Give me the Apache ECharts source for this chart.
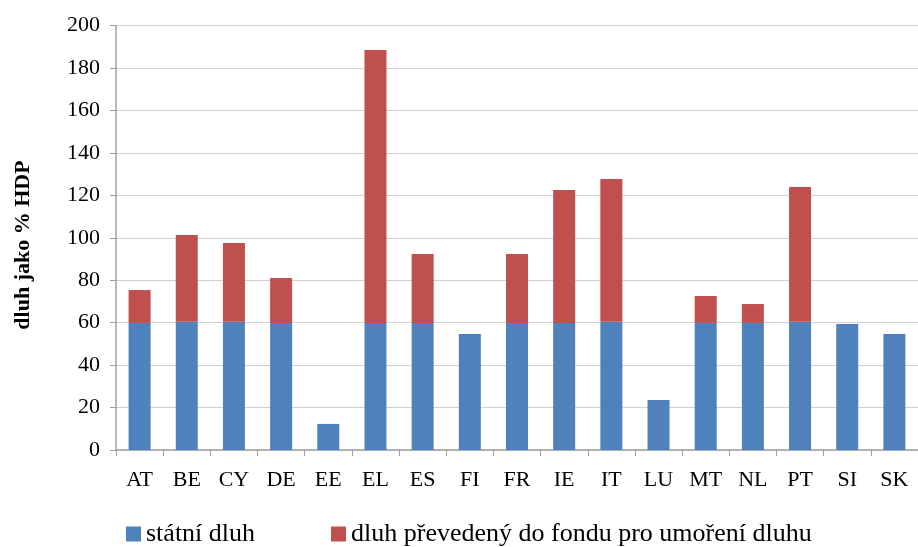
<!DOCTYPE html>
<html><head><meta charset="utf-8">
<script src="https://cdn.jsdelivr.net/npm/echarts@6/dist/echarts.min.js"></script>
<style>html,body{margin:0;padding:0;background:#fff}#c{width:918px;height:547px}</style>
</head><body><div id="c"></div>
<script>
const categories = ['AT','BE','CY','DE','EE','EL','ES','FI','FR','IE','IT','LU','MT','NL','PT','SI','SK'];
const statniDluh = [59.9,60.5,60.5,59.9,12.3,59.9,59.9,54.7,59.9,59.9,60.5,23.6,59.9,59.9,60.5,59.4,54.7];
const celkem =     [75.4,101.3,97.6,81.1,12.3,188.5,92.4,54.7,92.4,122.5,127.7,23.6,72.6,68.8,124.0,59.4,54.7];
const prevedeny = celkem.map((t,i)=>+(t - statniDluh[i]).toFixed(1));
const seriesNames = ['státní dluh','dluh převedený do fondu pro umoření dluhu'];
const yTitle = 'dluh jako % HDP';

const font = '"Liberation Serif","Times New Roman",serif';
const legendText = {fontFamily:font,fontSize:26,color:'#000'};
const chart = echarts.init(document.getElementById('c'), null, {renderer:'canvas'});
chart.setOption({
  animation:false,
  color:['#4F81BD','#C0504D'],
  grid:{left:116,right:-6,top:25.7,bottom:97,containLabel:false},
  legend:[
    {data:[seriesNames[0]], left:121, top:521, padding:[0,5,0,5], itemWidth:15, itemHeight:15, itemGap:0,
     icon:'rect', textStyle:legendText},
    {data:[seriesNames[1]], left:326, top:521, padding:[0,5,0,5], itemWidth:15, itemHeight:15, itemGap:0,
     icon:'rect', textStyle:legendText}
  ],
  graphic:[{
    type:'text', x:23, y:245, rotation:Math.PI/2,
    style:{text:yTitle, font:'bold 22px "Liberation Serif","Times New Roman",serif',
      fill:'#000', textAlign:'center', textVerticalAlign:'middle'}
  }],
  xAxis:{
    type:'category', data:categories, boundaryGap:true,
    axisLine:{lineStyle:{color:'#a0a0a0',width:1.5}},
    axisTick:{show:true,length:6,lineStyle:{color:'#a0a0a0'}},
    axisLabel:{fontFamily:font,fontSize:22,color:'#000',margin:19}
  },
  yAxis:{
    type:'value', min:0, max:200, interval:20,
    axisLine:{show:true,lineStyle:{color:'#a0a0a0',width:1.5}},
    axisTick:{show:true,length:6,lineStyle:{color:'#a0a0a0'}},
    axisLabel:{fontFamily:font,fontSize:22,color:'#000',margin:16},
    splitLine:{lineStyle:{color:'#d0d0d0',width:1.2}}
  },
  series:[
    {name:seriesNames[0],type:'bar',stack:'a',data:statniDluh,barWidth:22},
    {name:seriesNames[1],type:'bar',stack:'a',data:prevedeny,barWidth:22}
  ]
});
</script></body></html>
